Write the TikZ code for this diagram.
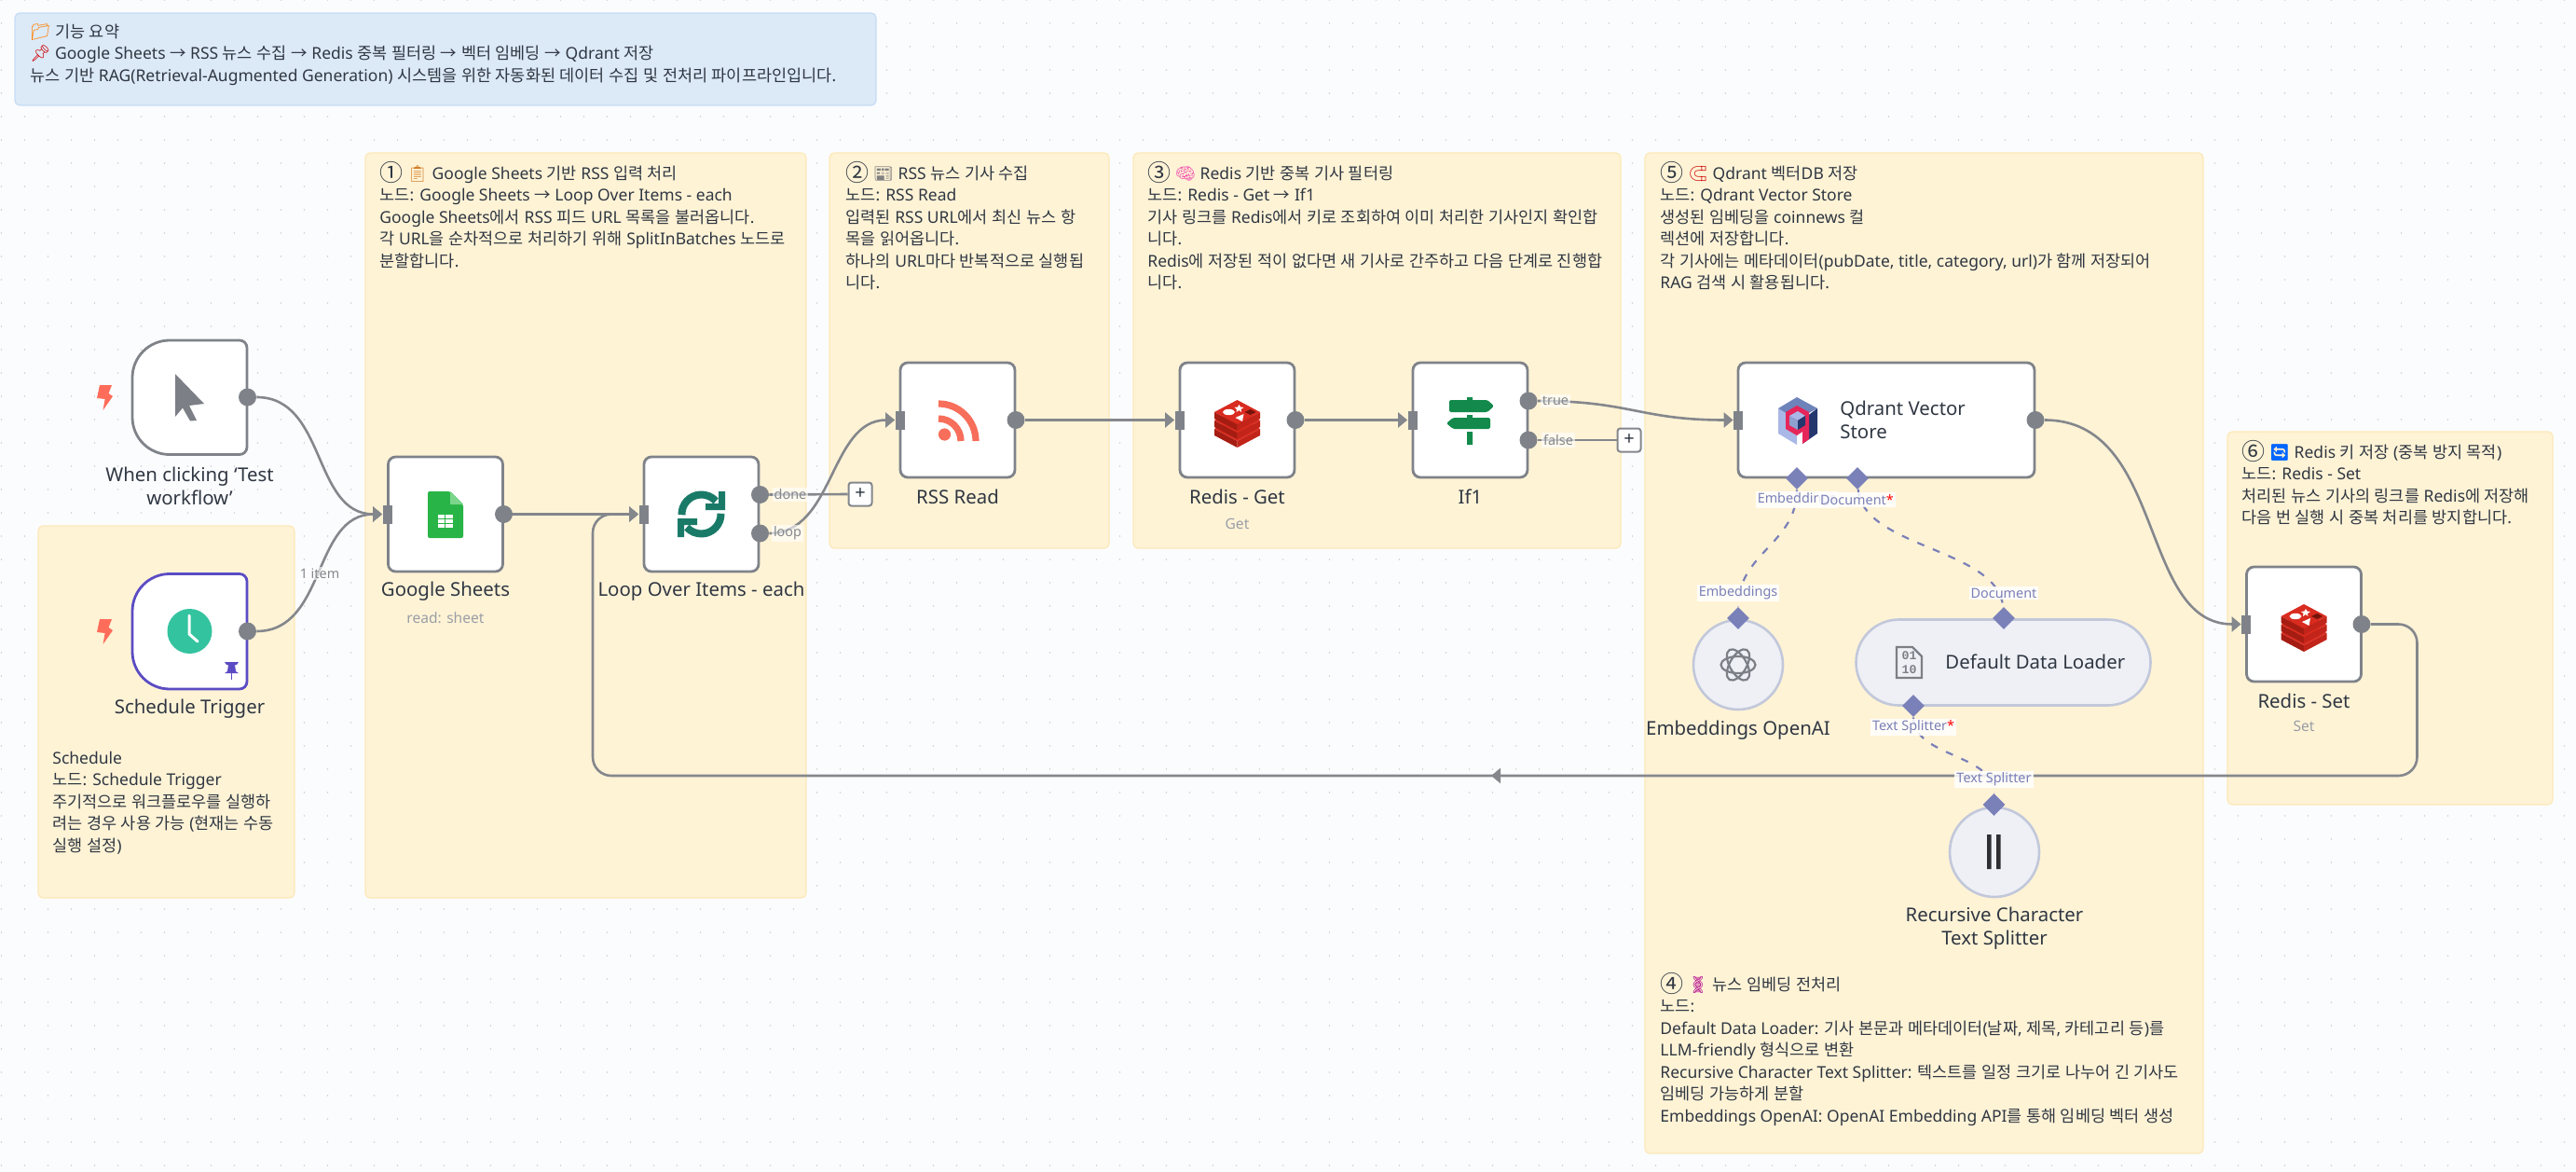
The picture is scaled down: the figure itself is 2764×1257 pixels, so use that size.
\documentclass[tikz,border=0pt]{standalone}
\usepackage{fontspec}
\usetikzlibrary{arrows.meta,shapes.geometric,shapes.misc}
\setmainfont{Noto Sans}
\newfontfamily\krfont{Noto Sans CJK KR}
\newfontfamily\emofont{Noto Emoji}
\newfontfamily\lmono{Liberation Mono}[FontFace={b}{n}{Liberation Mono Bold}]
\newcommand\latfont{\rmfamily}
% Hangul and arrows are set in the CJK font, all else in the main font
\newXeTeXintercharclass\krclass
\newcount\krc
\krc="AC00
\loop\XeTeXcharclass\krc=\krclass\ifnum\krc<"D7A3 \advance\krc by 1 \repeat
\XeTeXcharclass"2192=\krclass
\XeTeXinterchartokenstate=1
\XeTeXinterchartoks 0 \krclass={\krfont}
\XeTeXinterchartoks 4095 \krclass={\krfont}
\XeTeXinterchartoks \krclass 0={\latfont}
\XeTeXinterchartoks \krclass 4095={\latfont}
\newcommand\fl{\rule{0pt}{8.5pt}}
\newcommand\emo[2]{\smash{\textcolor{#1}{\emofont #2}}}
\newcommand\cnum[1]{\smash{\raisebox{-1.2pt}{\fontsize{12.5}{12.5}\krfont #1}}}
\definecolor{paper}{HTML}{FBFCFE}
\definecolor{griddot}{HTML}{CDD1D6}
\definecolor{stfill}{HTML}{FFF3D6}
\definecolor{stline}{HTML}{FCE9B8}
\definecolor{blfill}{HTML}{DCE9F7}
\definecolor{blline}{HTML}{C6DCF5}
\definecolor{wire}{HTML}{84878C}
\definecolor{port}{HTML}{7F8389}
\definecolor{ink}{HTML}{2F3742}
\definecolor{subink}{HTML}{9A9EA5}
\definecolor{aiwire}{HTML}{7A80B8}
\definecolor{aifill}{HTML}{EEF0F6}
\definecolor{ailine}{HTML}{C2C8DA}
\definecolor{rd}{HTML}{D92B1F}
\definecolor{rdd}{HTML}{A51D12}
\definecolor{rdm}{HTML}{C22419}
\definecolor{sgreen}{HTML}{138A4B}
\definecolor{lteal}{HTML}{1A7A68}
\definecolor{bolt}{HTML}{FF6D5A}
\definecolor{purp}{HTML}{5B4CC4}
\definecolor{icgray}{HTML}{7C7F86}
\definecolor{clockc}{HTML}{34C39F}
\definecolor{gsh}{HTML}{28B446}
\definecolor{gshl}{HTML}{7BD68C}
\definecolor{rssc}{HTML}{F76E5A}
\definecolor{qa}{HTML}{A9B8E6}
\definecolor{qb}{HTML}{6F83BB}
\definecolor{qc}{HTML}{24366E}
\definecolor{qd}{HTML}{E6265A}
\definecolor{qe}{HTML}{8EA0D0}
\definecolor{barc}{HTML}{2F2F33}
\pgfdeclarelayer{grid}\pgfdeclarelayer{conn}
\pgfsetlayers{grid,conn,main}
\tikzset{
  sticky/.style={fill=stfill,draw=stline,line width=.6pt,rounded corners=2.5pt},
  stxt/.style={anchor=north west,inner sep=0pt,align=left,text=ink,font=\fontsize{8.75}{11.75}\selectfont},
  nbox/.style={draw=port,fill=white,line width=1.4pt,rounded corners=4pt},
  trig/.style={nbox,sharp corners,line join=round},
  wbox/.style={nbox,minimum width=61.5pt,minimum height=61.5pt,inner sep=0pt},
  qbox/.style={nbox,minimum width=159pt,minimum height=61.5pt,inner sep=0pt},
  outdot/.style={circle,fill=port,minimum size=9.5pt,inner sep=0pt},
  inport/.style={rectangle,fill=port,minimum width=5pt,minimum height=10pt,inner sep=0pt},
  conn/.style={draw=wire,line width=1.3pt},
  flow/.style={conn,-{Triangle[length=5pt,width=8pt,fill=wire]}},
  aiconn/.style={draw=aiwire,line width=1.1pt,dash pattern=on 4pt off 5pt},
  aidia/.style={diamond,fill=aiwire,minimum size=12pt,inner sep=0pt,aspect=1},
  aicirc/.style={circle,draw=ailine,fill=aifill,line width=1.3pt,minimum size=48pt,inner sep=0pt},
  aipill/.style={rounded rectangle,draw=ailine,fill=aifill,line width=1.3pt,minimum width=158pt,minimum height=46pt,inner sep=0pt},
  nlabel/.style={align=center,text=ink,inner sep=0pt,font=\fontsize{10.2}{12.5}\selectfont},
  sublabel/.style={text=subink,inner sep=0pt,font=\fontsize{7.8}{9}\selectfont},
  plabel/.style={text=wire,inner sep=1pt,font=\fontsize{7.2}{8}\selectfont,fill=white,fill opacity=.6,text opacity=1},
  ailabel/.style={text=aiwire,inner sep=1pt,font=\fontsize{7.2}{8}\selectfont,fill=white,fill opacity=.85,text opacity=1},
  plusbox/.style={draw=wire,fill=white,line width=1pt,rounded corners=1.5pt,minimum size=12.5pt,inner sep=0pt,text=ink,font=\fontsize{10}{10}\selectfont},
}
\newcommand\redisicon[2]{%
  \begin{scope}[shift={(#1,#2)}]
    \foreach \d in {10,1,-8}{
      \fill[rdd] (-24.5,\d) -- (0,13+\d) -- (0,20+\d) -- (-24.5,7+\d) -- cycle;
      \fill[rdm] (24.5,\d) -- (0,13+\d) -- (0,20+\d) -- (24.5,7+\d) -- cycle;
      \fill[rd] (-24.5,\d) -- (0,-13+\d) -- (24.5,\d) -- (0,13+\d) -- cycle;
    }
    \fill[white] (-9,-8) ellipse [x radius=6.5,y radius=3.2];
    \fill[white] (2,-16) -- (3.5,-13.5) -- (7,-13) -- (4,-11) -- (4.5,-8) -- (2,-10) -- (-1,-8) -- (-.5,-11) -- (-3,-13) -- (.5,-13.5) -- cycle;
    \fill[white] (-2,-2) -- (7,-6) -- (5.5,2) -- cycle;
    \fill[rdd!70!black] (8,-8) -- (14,-11) -- (20,-8) -- (14,-5) -- cycle;
  \end{scope}}
\newcommand\boltat[2]{%
  \fill[bolt,shift={(#1,#2)}] (-5,-13) -- (8,-13) -- (4.5,-4) -- (9,-1) -- (-1.5,14) -- (.6,2) -- (-8,1) -- cycle;}
\begin{document}
\begin{tikzpicture}[x=.5pt,y=-.5pt]
\useasboundingbox (0,0) rectangle (2764,1257);
\begin{pgfonlayer}{grid}
  \fill[paper] (0,0) rectangle (2764,1257);
  \foreach \i in {0,...,110}{
    \fill[griddot] \foreach \j in {0,...,50}{(\i*25+1.5,\j*25) circle [radius=.45pt]};
  }
  % stickies
  \draw[fill=blfill,draw=blline,line width=.6pt,rounded corners=2.5pt] (16,14) rectangle (940,113);
  \draw[sticky] (41,564) rectangle (316,963);
  \draw[sticky] (392,164) rectangle (865,963);
  \draw[sticky] (890,164) rectangle (1190,588);
  \draw[sticky] (1216,164) rectangle (1739,588);
  \draw[sticky] (1765,164) rectangle (2364,1237);
  \draw[sticky] (2390,463) rectangle (2739,863);
\end{pgfonlayer}

% sticky texts
\node[stxt] (tBlue) at (32,23) {\fl\emo{orange}{📁} 기능 요약\\\emo{red!80!black}{📌} Google Sheets → RSS 뉴스 수집 → Redis 중복 필터링 → 벡터 임베딩 → Qdrant 저장\\뉴스 기반 RAG(Retrieval-Augmented Generation) 시스템을 위한 자동화된 데이터 수집 및 전처리 파이프라인입니다.};
\node[stxt] (tSched) at (56,802) {\fl Schedule\\노드: Schedule Trigger\\주기적으로 워크플로우를 실행하\\려는 경우 사용 가능 (현재는 수동\\실행 설정)};
\node[stxt] (tOne) at (407,175) {\fl\cnum{①} \emo{brown!70!orange}{📋} Google Sheets 기반 RSS 입력 처리\\노드: Google Sheets → Loop Over Items - each\\Google Sheets에서 RSS 피드 URL 목록을 불러옵니다.\\각 URL을 순차적으로 처리하기 위해 SplitInBatches 노드로\\분할합니다.};
\node[stxt] (tTwo) at (907,175) {\fl\cnum{②} \emo{gray}{📰} RSS 뉴스 기사 수집\\노드: RSS Read\\입력된 RSS URL에서 최신 뉴스 항\\목을 읽어옵니다.\\하나의 URL마다 반복적으로 실행됩\\니다.};
\node[stxt] (tThree) at (1231,175) {\fl\cnum{③} \emo{magenta!70}{🧠} Redis 기반 중복 기사 필터링\\노드: Redis - Get → If1\\기사 링크를 Redis에서 키로 조회하여 이미 처리한 기사인지 확인합\\니다.\\Redis에 저장된 적이 없다면 새 기사로 간주하고 다음 단계로 진행합\\니다.};
\node[stxt] (tFive) at (1781,175) {\fl\cnum{⑤} \emo{red!80!black}{🧲} Qdrant 벡터DB 저장\\노드: Qdrant Vector Store\\생성된 임베딩을 coinnews 컬\\렉션에 저장합니다.\\각 기사에는 메타데이터(pubDate, title, category, url)가 함께 저장되어\\RAG 검색 시 활용됩니다.};
\node[stxt] (tSix) at (2405,474) {\fl\cnum{⑥} \emo{blue!60!cyan}{🔄} Redis 키 저장 (중복 방지 목적)\\노드: Redis - Set\\처리된 뉴스 기사의 링크를 Redis에 저장해\\다음 번 실행 시 중복 처리를 방지합니다.};
\node[stxt] (tFour) at (1781,1045) {\fl\cnum{④} \emo{magenta!70!blue}{🧬} 뉴스 임베딩 전처리\\노드:\\Default Data Loader: 기사 본문과 메타데이터(날짜, 제목, 카테고리 등)를\\LLM-friendly 형식으로 변환\\Recursive Character Text Splitter: 텍스트를 일정 크기로 나누어 긴 기사도\\임베딩 가능하게 분할\\Embeddings OpenAI: OpenAI Embedding API를 통해 임베딩 벡터 생성};

% trigger nodes (rounded on the left)
\draw[trig] (182,365) -- (257,365) arc [start angle=270,end angle=360,radius=8] -- (265,479.5) arc [start angle=0,end angle=90,radius=8] -- (182,487.5) arc [start angle=90,end angle=180,radius=40] -- (142,405) arc [start angle=180,end angle=270,radius=40] -- cycle;
\draw[trig,draw=purp] (182,615.5) -- (257,615.5) arc [start angle=270,end angle=360,radius=8] -- (265,731) arc [start angle=0,end angle=90,radius=8] -- (182,739) arc [start angle=90,end angle=180,radius=40] -- (142,655.5) arc [start angle=180,end angle=270,radius=40] -- cycle;
\boltat{112}{426}
\boltat{112}{677}
% cursor
\fill[icgray] (188,401) -- (219,433) -- (203,435) -- (211,451) -- (204,451.5) -- (196,437.5) -- (188,447) -- cycle;
% clock
\fill[clockc] (203.5,677) circle [radius=12pt];
\draw[white,line width=1.5pt,line cap=round,line join=round] (203,660) -- (203,680) -- (212,688);
% pin
\fill[purp] (241,710) -- (256,710) -- (254,713) -- (252,713) -- (253,720) -- (256,722) -- (241,722) -- (244,720) -- (245,713) -- (243,713) -- cycle;
\fill[purp] (247.7,722) rectangle (249.3,729);

% work nodes
\node[wbox] (sheets) at (478,551.5) {};
\node[wbox] (loopn) at (752.5,551.5) {};
\node[wbox] (rss) at (1027.5,450.5) {};
\node[wbox] (rget) at (1327.5,450.5) {};
\node[wbox] (ifn) at (1577.5,450.5) {};
\node[qbox] (qdn) at (2024,450.5) {};
\node[wbox] (rset) at (2472,669.5) {};
\node[aicirc] (emb) at (1865,713) {};
\node[aipill] (ldr) at (2149.5,710.5) {};
\node[aicirc] (spl) at (2140,914) {};

% ports
\node[outdot] (mOut) at (265.5,426) {};
\node[outdot] (schOut) at (265.5,677) {};
\node[inport] (sIn) at (415.5,551.5) {};
\node[outdot] (sOut) at (540.5,551.5) {};
\node[inport] (lIn) at (690.5,551.5) {};
\node[outdot] (lDone) at (815.5,530.5) {};
\node[outdot] (lLoop) at (815.5,572) {};
\node[inport] (rIn) at (965.5,450.5) {};
\node[outdot] (rOut) at (1090,450.5) {};
\node[inport] (gIn) at (1265.5,450.5) {};
\node[outdot] (gOut) at (1390,450.5) {};
\node[inport] (iIn) at (1515.5,450.5) {};
\node[outdot] (iTrue) at (1640,430) {};
\node[outdot] (iFalse) at (1640,472) {};
\node[inport] (qIn) at (1865,450.5) {};
\node[outdot] (qOut) at (2184,450.5) {};
\node[inport] (tIn) at (2410,669.5) {};
\node[outdot] (tOut) at (2534,669.5) {};
\node[plusbox] (plusA) at (923,530) {+};
\node[plusbox] (plusB) at (1748,472) {+};
\node[aidia] (dEmb) at (1928,513) {};
\node[aidia] (dDoc) at (1993,513) {};
\node[aidia] (dE2) at (1865,663) {};
\node[aidia] (dD2) at (2150,663) {};
\node[aidia] (dTs) at (2053,757) {};
\node[aidia] (dT2) at (2139.5,863) {};

% connectors
\begin{pgfonlayer}{conn}
  \draw[flow] (mOut.east) .. controls +(75,0) and +(-75,0) .. (sIn.west);
  \draw[flow] (schOut.east) .. controls +(75,0) and +(-75,0) .. (sIn.west);
  \draw[flow] (sOut.east) -- (lIn.west);
  \draw[conn] (lDone.east) -- (plusA.west);
  \draw[flow] (lLoop.east) .. controls +(70,0) and +(-70,0) .. (rIn.west);
  \draw[flow] (rOut.east) -- (gIn.west);
  \draw[flow] (gOut.east) -- (iIn.west);
  \draw[flow] (iTrue.east) .. controls +(100,0) and +(-100,0) .. (qIn.west);
  \draw[conn] (iFalse.east) -- (plusB.west);
  \draw[flow] (qOut.east) .. controls +(130,0) and +(-110,0) .. (tIn.west);
  \coordinate (bkA) at (2593.5,669.5);
  \coordinate (bkB) at (2593.5,832);
  \coordinate (bkM) at (1617,832);
  \coordinate (bkM2) at (1600,832);
  \coordinate (bkC) at (636,832);
  \coordinate (bkD) at (636,551.5);
  \draw[flow,rounded corners=10pt] (tOut.east) -- (bkA) -- (bkB) -- (bkC) -- (bkD) -- (lIn.west);
  \draw[flow] (bkM) -- (bkM2);
  \draw[aiconn] (dEmb) .. controls +(0,70) and +(0,-70) .. (dE2);
  \draw[aiconn] (dDoc) .. controls +(5,75) and +(-5,-75) .. (dD2);
  \draw[aiconn] (dTs) .. controls +(0,55) and +(0,-55) .. (dT2);
\end{pgfonlayer}

% port and wire labels
\node[plabel] (lbItem) at (343,615) {1 item};
\node[plabel] (lbDone) at (848,530.5) {done};
\node[plabel] (lbLoop) at (845,572) {loop};
\node[plabel] (lbTrue) at (1669,430) {true};
\node[plabel] (lbFalse) at (1672,472) {false};
\node[ailabel] (lbE1) at (1928,536) {Embeddings};
\node[ailabel] (lbD1) at (1992.5,536) {Document\textcolor{red}{*}};
\node[ailabel] (lbE2) at (1865,636) {Embeddings};
\node[ailabel] (lbD2) at (2150,636) {Document};
\node[ailabel] (lbT1) at (2053,780) {Text Splitter\textcolor{red}{*}};
\node[ailabel] (lbT2) at (2139.5,836) {Text Splitter};

% node names
\node[nlabel] (nmM) at (203.5,521.5) {When clicking ‘Test\\workflow’};
\node[nlabel] (nmS) at (203.5,760) {Schedule Trigger};
\node[nlabel] (nmG) at (478,634) {Google Sheets};
\node[sublabel] (sbG) at (478,663) {read: sheet};
\node[nlabel] (nmL) at (752.5,634) {Loop Over Items - each};
\node[nlabel] (nmR) at (1027.5,533) {RSS Read};
\node[nlabel] (nmRg) at (1327.5,533) {Redis - Get};
\node[sublabel] (sbRg) at (1327.5,562) {Get};
\node[nlabel] (nmI) at (1577.5,533) {If1};
\node[nlabel,align=left,anchor=west] (nmQ) at (1974,450.5) {Qdrant Vector\\Store};
\node[nlabel] (nmEm) at (1865,783) {Embeddings OpenAI};
\node[nlabel,anchor=west] (nmDl) at (2087,710) {Default Data Loader};
\node[nlabel] (nmT) at (2140,995.5) {Recursive Character\\Text Splitter};
\node[nlabel] (nmRs) at (2472,752) {Redis - Set};
\node[sublabel] (sbRs) at (2472,779) {Set};

% icons
% google sheets
\fill[gsh,rounded corners=1pt] (459,527) -- (483,527) -- (497,541) -- (497,577) -- (459,577) -- cycle;
\fill[gshl] (483,527) -- (497,541) -- (483,541) -- cycle;
\fill[white] (470,552) rectangle (486,566);
\draw[gsh,line width=.6pt] (470,556.7) -- (486,556.7) (470,561.3) -- (486,561.3) (477.5,552) -- (477.5,566);
% loop
\draw[lteal,line width=4pt] (752.5,551.5) ++(178:21) arc [start angle=178,end angle=318,radius=21];
\fill[lteal] (757,540) -- (771,540) -- (771,527) -- (778,527) -- (778,547) -- (757,547) -- cycle;
\draw[lteal,line width=4pt] (752.5,551.5) ++(358:21) arc [start angle=-2,end angle=138,radius=21];
\fill[lteal] (748,563) -- (734,563) -- (734,576) -- (727,576) -- (727,556) -- (748,556) -- cycle;
% rss
\fill[rssc] (1013.5,466) circle [radius=3.3pt];
\draw[rssc,line width=3.6pt] (1007,449) arc [start angle=270,end angle=360,radius=24];
\draw[rssc,line width=3.6pt] (1007,433) arc [start angle=270,end angle=360,radius=40];
% redis
\redisicon{1327.5}{450}
\redisicon{2472}{669}
% if signs
\fill[sgreen,rounded corners=.8pt] (1555,429) -- (1596,429) -- (1603,435.5) -- (1596,442) -- (1555,442) -- cycle;
\fill[sgreen,rounded corners=.8pt] (1599,448) -- (1559,448) -- (1552,454) -- (1559,460) -- (1599,460) -- cycle;
\fill[sgreen] (1574,426) rectangle (1580,429) (1574,445) rectangle (1580,448) (1574,463) rectangle (1580,477);
% qdrant
\fill[qa] (1908,438) -- (1928,450) -- (1928,477) -- (1908,465) -- cycle;
\fill[qb] (1908,438) -- (1928,426) -- (1950,438) -- (1928,450) -- cycle;
\fill[qc] (1950,438) -- (1950,465) -- (1934,476) -- (1934,450) -- cycle;
\fill[qd] (1916,442) -- (1928,435) -- (1941,442) -- (1941,471) -- (1934,476) -- (1934,463) -- (1928,467) -- (1916,460) -- cycle;
\fill[qa] (1920,446) -- (1929,441) -- (1937,446) -- (1929,451) -- cycle;
\fill[qe] (1920,446) -- (1929,451) -- (1929,461) -- (1920,456) -- cycle;
\fill[qc] (1937,446) -- (1929,451) -- (1929,461) -- (1937,456) -- cycle;
% openai knot
\foreach \a in {0,60,120}{
  \draw[icgray,line width=1.1pt,rotate around={\a:(1865,713)}] (1865,713) ellipse [x radius=18.5,y radius=9];
}
% binary document
\draw[icgray,line width=1.1pt,line join=miter] (2035,694) -- (2052,694) -- (2062,704) -- (2062,727) -- (2035,727) -- cycle;
\node[inner sep=0pt,text=icgray,align=center,font=\lmono\bfseries\fontsize{6.6}{7.6}\selectfont] (binIc) at (2048.5,711) {01\\10};
% text splitter bars
\fill[barc] (2132,895) rectangle (2136.5,932) (2142,895) rectangle (2146.5,932);
\end{tikzpicture}
\end{document}
